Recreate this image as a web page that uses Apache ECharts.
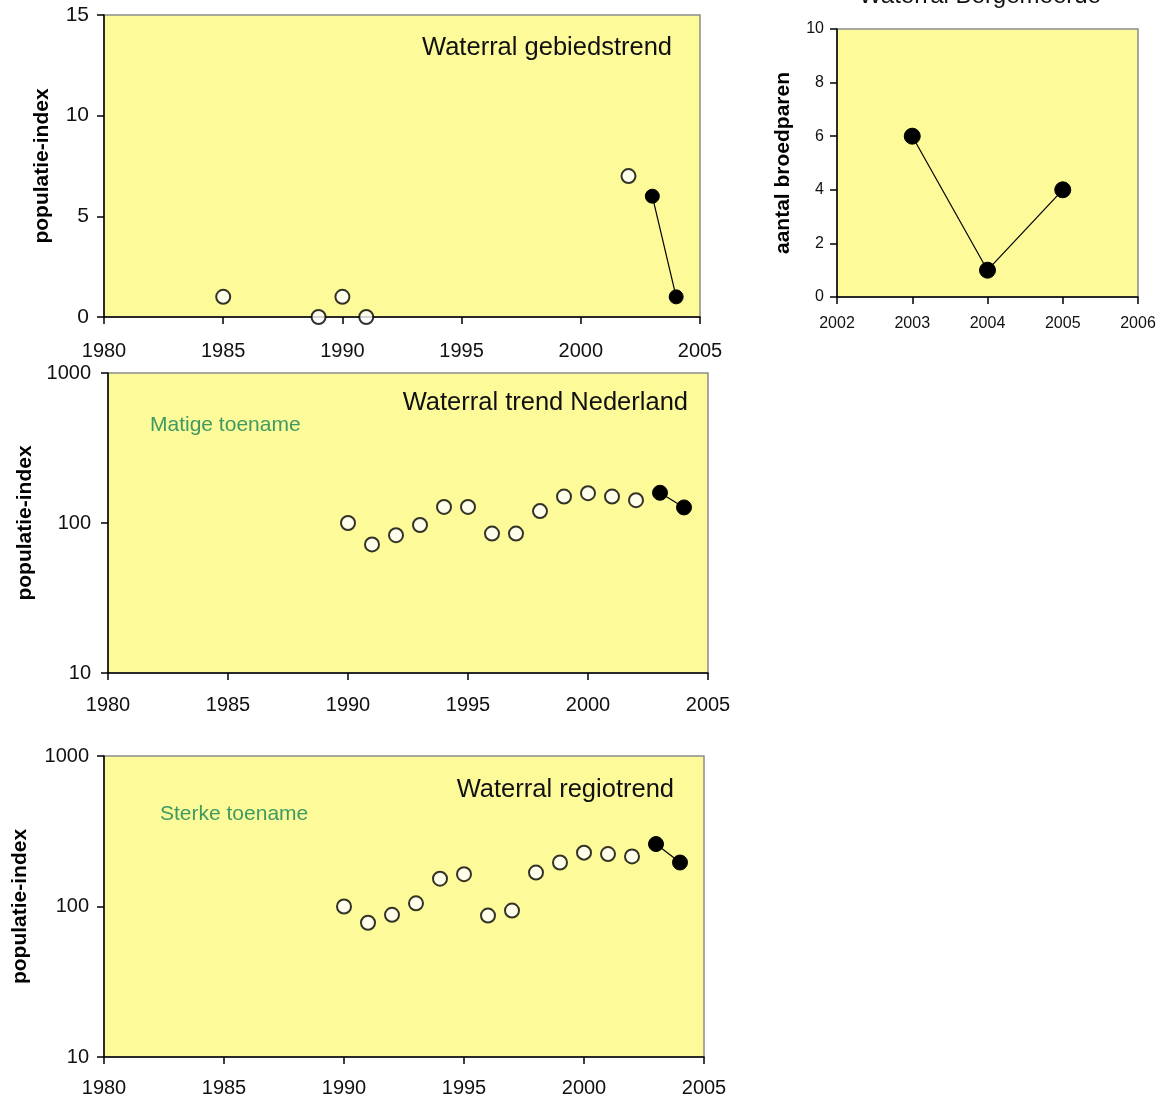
<!DOCTYPE html>
<html>
<head>
<meta charset="utf-8">
<title>Waterral</title>
<script src="https://cdn.jsdelivr.net/npm/echarts@6/dist/echarts.min.js"></script>
<style>
  html, body { margin: 0; padding: 0; background: #ffffff; }
  #chart { width: 1161px; height: 1102px; }
</style>
</head>
<body>
<div id="chart"></div>
<script>
// Gebiedstrend (index, lineaire as)
const areaYearsOpen = [1985, 1989, 1990, 1991, 2002];
const areaValuesOpen = [1, 0, 1, 0, 7];
const areaYearsSolid = [2003, 2004];
const areaValuesSolid = [6, 1];

// Bergemeerde (aantal broedparen)
const siteYears = [2003, 2004, 2005];
const siteValues = [6, 1, 4];

// Trend Nederland (index, logaritmische as)
const nlYearsOpen = [1990, 1991, 1992, 1993, 1994, 1995, 1996, 1997, 1998, 1999, 2000, 2001, 2002];
const nlValuesOpen = [100, 72, 83, 97, 128, 128, 85, 85, 120, 150, 158, 150, 142];
const nlYearsSolid = [2003, 2004];
const nlValuesSolid = [159, 127];

// Regiotrend (index, logaritmische as)
const regYearsOpen = [1990, 1991, 1992, 1993, 1994, 1995, 1996, 1997, 1998, 1999, 2000, 2001, 2002];
const regValuesOpen = [100, 78, 88, 105, 153, 164, 87, 94, 168, 196, 228, 223, 215];
const regYearsSolid = [2003, 2004];
const regValuesSolid = [260, 196];

// Labels
const yNameIndex = 'populatie-index';
const yNamePairs = 'aantal broedparen';
const titleArea = 'Waterral gebiedstrend';
const titleSite = 'Waterral Bergemeerde';
const titleNl = 'Waterral trend Nederland';
const titleReg = 'Waterral regiotrend';
const noteNl = 'Matige toename';
const noteReg = 'Sterke toename';

const FONT = '"Liberation Sans", Arial, sans-serif';
const PLOT_BG = '#fdfa9a';
const GREEN = '#3f9a62';

const pairs = (xs, ys) => xs.map((x, i) => [x, ys[i]]);
const plain = (v) => String(v);

function grid(left, top, width, height) {
  return {
    left, top, width, height,
    show: true,
    backgroundColor: PLOT_BG,
    borderColor: '#8c8c8c',
    borderWidth: 1.5
  };
}

function xAxis(gridIndex, min, max, interval, fontSize, margin) {
  return {
    type: 'value', gridIndex, min, max, interval,
    splitLine: { show: false },
    axisLine: { show: true, onZero: false, lineStyle: { color: '#000', width: 1.5 } },
    axisTick: { show: true, length: 7, lineStyle: { color: '#000', width: 1.5 } },
    axisLabel: { fontFamily: FONT, fontSize, color: '#111', margin, formatter: plain }
  };
}

function yAxisLinear(gridIndex, min, max, interval, fontSize, margin, name, nameGap, nameSize) {
  return {
    type: 'value', gridIndex, min, max, interval,
    name, nameLocation: 'middle', nameGap, nameRotate: 90,
    nameTextStyle: { fontFamily: FONT, fontSize: nameSize, fontWeight: 'bold', color: '#000' },
    splitLine: { show: false },
    axisLine: { show: true, onZero: false, lineStyle: { color: '#000', width: 1.5 } },
    axisTick: { show: true, length: 7, lineStyle: { color: '#000', width: 1.5 } },
    axisLabel: { fontFamily: FONT, fontSize, color: '#111', margin, formatter: plain }
  };
}

function yAxisLog(gridIndex, margin, nameGap) {
  return {
    type: 'log', logBase: 10, gridIndex, min: 10, max: 1000, interval: 1,
    name: yNameIndex, nameLocation: 'middle', nameGap, nameRotate: 90,
    nameTextStyle: { fontFamily: FONT, fontSize: 21, fontWeight: 'bold', color: '#000' },
    splitLine: { show: false },
    minorTick: { show: false },
    axisLine: { show: true, onZero: false, lineStyle: { color: '#000', width: 1.5 } },
    axisTick: { show: true, length: 7, lineStyle: { color: '#000', width: 1.5 } },
    axisLabel: { fontFamily: FONT, fontSize: 20, color: '#111', margin, formatter: plain }
  };
}

function openSeries(idx, data) {
  return {
    type: 'scatter', xAxisIndex: idx, yAxisIndex: idx, data,
    symbol: 'circle', symbolSize: 14, clip: false, z: 5,
    itemStyle: { color: '#ffffff', borderColor: '#000', borderWidth: 2 }
  };
}

function solidSeries(idx, data, size) {
  return {
    type: 'line', xAxisIndex: idx, yAxisIndex: idx, data,
    symbol: 'circle', symbolSize: size, showSymbol: true, clip: false, z: 6,
    lineStyle: { color: '#000', width: 1.2 },
    itemStyle: { color: '#000', borderColor: '#000' }
  };
}

function label(text, x, y, size, color, align) {
  return {
    type: 'text', x, y, z: 100,
    style: {
      text, fill: color, fontFamily: FONT, fontSize: size,
      align, verticalAlign: 'middle'
    }
  };
}

const chart = echarts.init(document.getElementById('chart'), null, { renderer: 'canvas' });

chart.setOption({
  backgroundColor: '#ffffff',
  animation: false,
  grid: [
    grid(104, 15, 596, 302),
    grid(837, 29, 301, 268),
    grid(108, 373, 600, 300),
    grid(104, 756, 600, 301)
  ],
  xAxis: [
    xAxis(0, 1980, 2005, 5, 20, 24),
    xAxis(1, 2002, 2006, 1, 16, 19),
    xAxis(2, 1980, 2005, 5, 20, 22),
    xAxis(3, 1980, 2005, 5, 20, 21)
  ],
  yAxis: [
    yAxisLinear(0, 0, 15, 5, 21, 15, yNameIndex, 51, 21),
    yAxisLinear(1, 0, 10, 2, 16, 13, yNamePairs, 43, 21),
    yAxisLog(2, 17, 71),
    yAxisLog(3, 15, 73)
  ],
  series: [
    openSeries(0, pairs(areaYearsOpen, areaValuesOpen)),
    solidSeries(0, pairs(areaYearsSolid, areaValuesSolid), 14),
    solidSeries(1, pairs(siteYears, siteValues), 16),
    openSeries(2, pairs(nlYearsOpen, nlValuesOpen)),
    solidSeries(2, pairs(nlYearsSolid, nlValuesSolid), 15),
    openSeries(3, pairs(regYearsOpen, regValuesOpen)),
    solidSeries(3, pairs(regYearsSolid, regValuesSolid), 15)
  ],
  graphic: [
    label(titleArea, 672, 48, 25.5, '#111', 'right'),
    label(titleSite, 980, -4, 24, '#111', 'center'),
    label(titleNl, 688, 403, 25.5, '#111', 'right'),
    label(titleReg, 674, 790, 25.5, '#111', 'right'),
    label(noteNl, 150, 425, 21, GREEN, 'left'),
    label(noteReg, 160, 814, 21, GREEN, 'left')
  ]
});
</script>
</body>
</html>
